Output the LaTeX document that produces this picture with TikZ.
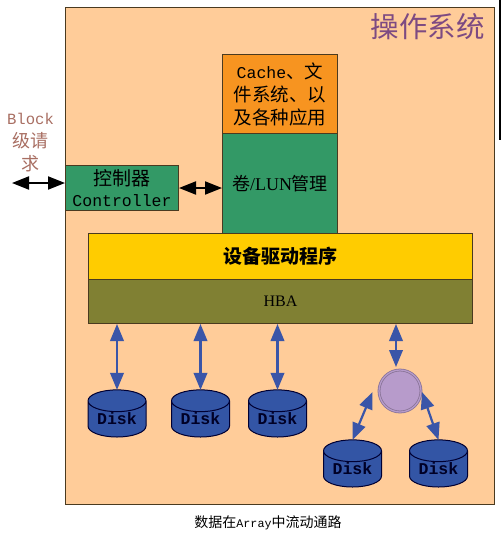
\documentclass[tikz,border=0pt]{standalone}
\usepackage{fontspec}
\setmainfont{Liberation Serif}
\newfontfamily\cjk{Noto Sans CJK SC}
\newfontfamily\monof{Liberation Mono}
\usetikzlibrary{arrows.meta,shapes.geometric}
\definecolor{bgc}{HTML}{FFCC99}
\definecolor{edgec}{HTML}{4A3A20}
\definecolor{greenc}{HTML}{339966}
\definecolor{orangec}{HTML}{F79420}
\definecolor{yellowc}{HTML}{FFCC00}
\definecolor{hbac}{HTML}{808033}
\definecolor{diskc}{HTML}{3355A5}
\definecolor{arrowc}{HTML}{3A55A8}
\definecolor{purplec}{HTML}{B79BCB}
\definecolor{titlec}{HTML}{7D4A82}
\definecolor{blockc}{HTML}{A86E62}
\tikzset{
  panel/.style={draw=edgec,line width=1pt,inner sep=0pt,align=center,text=black},
  diskn/.style={cylinder,shape border rotate=90,aspect=0.55,draw=black!80!blue,line width=1pt,
    fill=diskc,minimum width=58pt,minimum height=46pt,inner sep=0pt,outer sep=0pt,anchor=south,
    font=\fontsize{16.5pt}{18pt}\monof\bfseries,text=black!85!blue},
  blackarrow/.style={draw=black,line width=2pt,{Triangle[length=17pt,width=13pt]}-{Triangle[length=17pt,width=13pt]}},
  bluearrow/.style={draw=arrowc,line width=2.2pt,{Triangle[length=17pt,width=13.5pt]}-{Triangle[length=17pt,width=13.5pt]}},
}
\begin{document}
\begin{tikzpicture}[x=1pt,y=-1pt]
\useasboundingbox (0,0) rectangle (501,547);
\node[panel,fill=bgc,minimum width=429pt,minimum height=497pt,anchor=north west] (os) at (65,7) {};
\node[anchor=center,text=titlec,font=\fontsize{28.5pt}{30pt}\cjk] (ostitle) at (427.5,27) {操作系统};
\coordinate (mA) at (500,0);
\coordinate (mB) at (500,140);
\draw[black,line width=1.2pt] (mA) -- (mB);
\node[panel,fill=orangec,minimum width=115pt,minimum height=79pt,anchor=north west,
      font=\fontsize{18.5pt}{23pt}\cjk] (cache) at (222,54)
 {{\monof\fontsize{16.5pt}{23pt}\selectfont Cache}、文\\件系统、以\\及各种应用};
\node[panel,fill=greenc,minimum width=115pt,minimum height=100pt,anchor=north west,
      font=\fontsize{18pt}{22pt}\selectfont] (vol) at (222,133)
 {{\cjk 卷}/LUN{\cjk 管理}};
\node[panel,fill=yellowc,minimum width=384pt,minimum height=46pt,anchor=north west,
      font=\fontsize{19pt}{22pt}\cjk\bfseries] (drv) at (88,233)
 {设备驱动程序};
\node[panel,fill=hbac,minimum width=384pt,minimum height=44pt,anchor=north west,
      font=\fontsize{16pt}{18pt}\selectfont] (hba) at (88,279)
 {HBA};
\node[panel,fill=greenc,minimum width=113pt,minimum height=45pt,anchor=north west,
      font=\fontsize{16.5pt}{21pt}\selectfont] (ctrl) at (65,165)
 {{\cjk\fontsize{19pt}{21pt}\selectfont 控制器}\\{\monof Controller}};
\node[align=center,text=blockc,font=\fontsize{15.6pt}{23pt}\selectfont] (blk) at (30.5,143)
 {{\monof Block}\\{\cjk\fontsize{18pt}{23pt}\selectfont 级请}\\{\cjk\fontsize{18pt}{23pt}\selectfont 求}};
\coordinate (blkend) at (12,183);
\coordinate (blkin) at (65,183);
\draw[blackarrow] (blkend) -- (blkin);
\draw[blackarrow] (ctrl.east) -- (vol.west |- ctrl.east);
\node[diskn] (d1) at (117,437) {\raisebox{2pt}{Disk}};
\node[diskn] (d2) at (200.5,437) {\raisebox{2pt}{Disk}};
\node[diskn] (d3) at (277.5,437) {\raisebox{2pt}{Disk}};
\node[diskn] (d4) at (352.5,487) {\raisebox{2pt}{Disk}};
\node[diskn] (d5) at (438.5,487) {\raisebox{2pt}{Disk}};
\node[circle,draw=purplec!75!black,double=purplec,fill=purplec,line width=0.8pt,double distance=1.2pt,minimum size=42pt,inner sep=0pt] (hub) at (400,391) {};
\draw[bluearrow] (d1.north |- hba.south) -- (d1.north);
\draw[bluearrow] (d2.north |- hba.south) -- (d2.north);
\draw[bluearrow] (d3.north |- hba.south) -- (d3.north);
\coordinate (hubtop) at (396,367);
\draw[bluearrow] (hubtop |- hba.south) -- (hubtop);
\coordinate (hubl) at (372.5,392);
\coordinate (hubr) at (422,392);
\draw[bluearrow] (hubl) -- (d4.north);
\draw[bluearrow] (hubr) -- (d5.north);
\node[font=\fontsize{14pt}{16pt}\cjk] (cap) at (268,523) {数据在{\monof\fontsize{11.7pt}{16pt}\selectfont Array}中流动通路};
\end{tikzpicture}
\end{document}
